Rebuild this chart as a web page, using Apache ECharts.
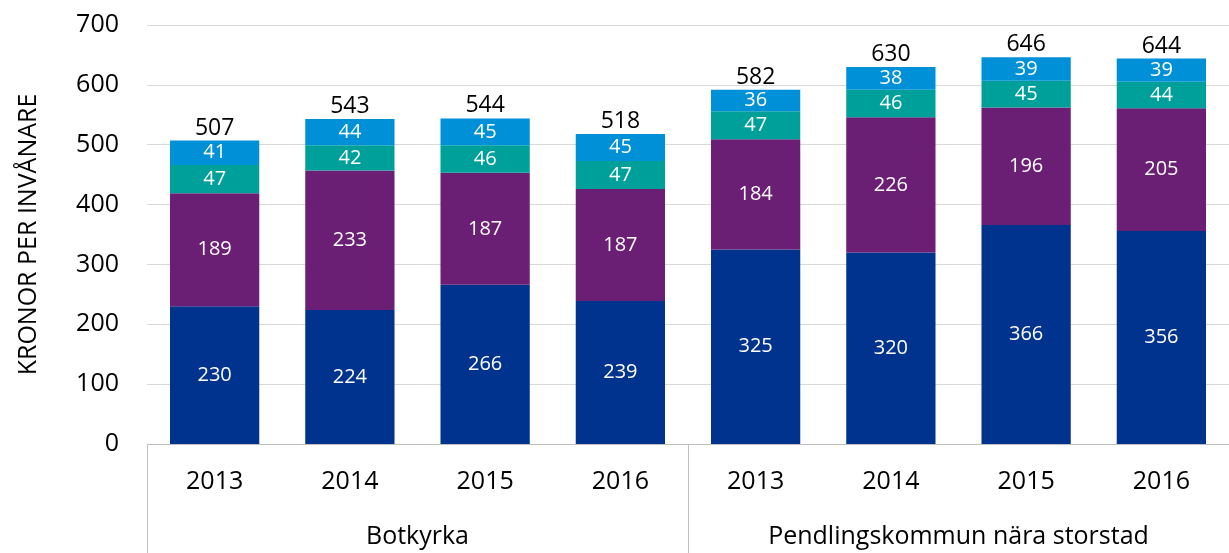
<!DOCTYPE html>
<html>
<head>
<meta charset="utf-8">
<script src="https://cdn.jsdelivr.net/npm/echarts@6/dist/echarts.min.js"></script>
<style>
  html, body { margin: 0; padding: 0; background: #fff; }
  #chart { width: 1229px; height: 553px; }
</style>
</head>
<body>
<div id="chart"></div>
<script>
const years = ["2013", "2014", "2015", "2016", "2013", "2014", "2015", "2016"];
const groups = ["Botkyrka", "Pendlingskommun nära storstad"];
const darkBlue = [230, 224, 266, 239, 325, 320, 366, 356];
const purple = [189, 233, 187, 187, 184, 226, 196, 205];
const teal = [47, 42, 46, 47, 47, 46, 45, 44];
const lightBlue = [41, 44, 45, 45, 36, 38, 39, 39];
const totals = [507, 543, 544, 518, 582, 630, 646, 644];
const yTicks = [0, 100, 200, 300, 400, 500, 600, 700];

const font = "'Open Sans', sans-serif";

const inner = (name, data, color) => ({
  name: name,
  type: "bar",
  stack: "tot",
  data: data,
  barWidth: "66%",
  itemStyle: { color: color },
  label: {
    show: true,
    position: "inside",
    color: "#fff",
    fontSize: 20,
    fontFamily: font,
  },
});

const chart = echarts.init(document.getElementById("chart"));
chart.setOption({
  animation: false,
  grid: { left: 147, width: 1091, top: 25, bottom: 109, containLabel: false },
  xAxis: [
    {
      type: "category",
      data: years,
      axisLine: { show: true, lineStyle: { color: "#bfbfbf", width: 1 } },
      axisTick: { show: false },
      axisLabel: { color: "#000", fontSize: 25, fontFamily: font, margin: 25 },
    },
    {
      type: "category",
      data: groups,
      position: "bottom",
      axisLine: { show: false },
      axisTick: { show: true, length: 109, lineStyle: { color: "#bfbfbf", width: 1 } },
      axisLabel: { color: "#000", fontSize: 25, fontFamily: font, margin: 80 },
    },
  ],
  yAxis: {
    type: "value",
    min: yTicks[0],
    max: yTicks[yTicks.length - 1],
    interval: 100,
    name: "KRONOR PER INVÅNARE",
    nameLocation: "middle",
    nameGap: 106,
    nameTextStyle: { color: "#000", fontSize: 25, fontFamily: font },
    axisLine: { show: false },
    axisTick: { show: false },
    axisLabel: { color: "#000", fontSize: 25, fontFamily: font, margin: 28 },
    splitLine: { lineStyle: { color: "#d9d9d9", width: 1 } },
  },
  series: [
    inner("a", darkBlue, "#00338d"),
    inner("b", purple, "#6a1f74"),
    inner("c", teal, "#00a09a"),
    inner("d", lightBlue, "#0090d8"),
    {
      name: "total",
      type: "bar",
      stack: "tot",
      data: totals.map(() => 0),
      barWidth: "66%",
      itemStyle: { color: "transparent" },
      label: {
        show: true,
        position: "top",
        distance: 1,
        color: "#000",
        fontSize: 23,
        fontFamily: font,
        formatter: (p) => String(totals[p.dataIndex]),
      },
    },
  ],
});
</script>
</body>
</html>
